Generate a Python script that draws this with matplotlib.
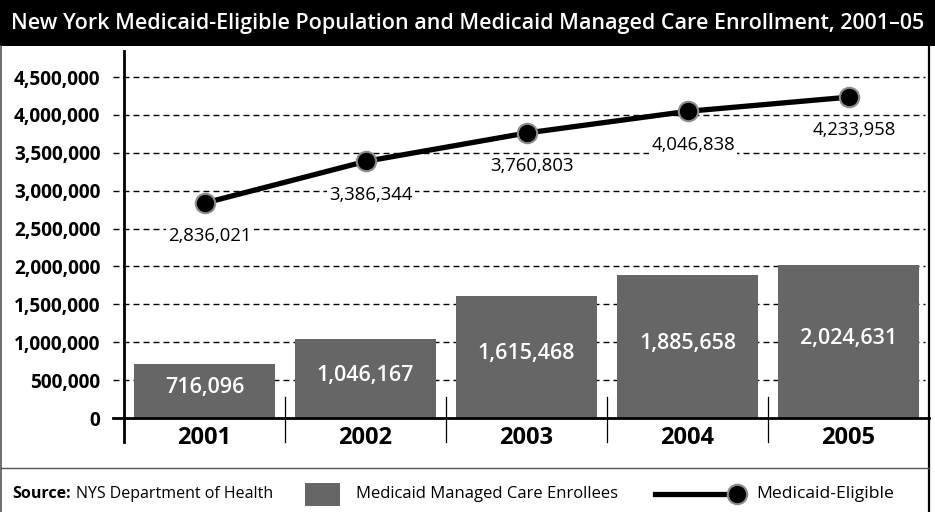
import matplotlib
matplotlib.use("Agg")
import matplotlib.pyplot as plt
from matplotlib.patches import Rectangle
from matplotlib.lines import Line2D

# ---------------------------------------------------------------
# Data
# ---------------------------------------------------------------
years = ["2001", "2002", "2003", "2004", "2005"]
managed_care = [716096, 1046167, 1615468, 1885658, 2024631]
eligible = [2836021, 3386344, 3760803, 4046838, 4233958]
yticks = [0, 500000, 1000000, 1500000, 2000000, 2500000,
          3000000, 3500000, 4000000, 4500000]

TITLE = "New York Medicaid-Eligible Population and Medicaid Managed Care Enrollment, 2001\u201305"

BAR_GRAY = "#666666"
EDGE_GRAY = "#8c8c8c"
BODY = ["Open Sans", "DejaVu Sans"]

W, H = 935, 512


def fx(px):
    return px / W


def fy(py):
    return 1 - py / H


fig = plt.figure(figsize=(W / 100, H / 100), dpi=100)

# title bar
fig.patches.append(Rectangle((0, fy(46)), 1, 46 / H, transform=fig.transFigure,
                             facecolor="black", edgecolor="none", zorder=0))
fig.text(0.5, fy(23), TITLE, color="white", ha="center", va="center",
         fontsize=15.5, fontweight="semibold", family=BODY)

# outer frame + legend separator
fig.lines.append(Line2D([fx(1), fx(1)], [fy(46), 0], transform=fig.transFigure,
                        color="#555555", lw=1.2))
fig.lines.append(Line2D([fx(929), fx(929)], [fy(46), 0], transform=fig.transFigure,
                        color="black", lw=1.6))
fig.lines.append(Line2D([fx(1), fx(929)], [fy(468), fy(468)], transform=fig.transFigure,
                        color="#555555", lw=1.0))

# main axes
ax_left, ax_right, ax_top, ax_bot = 124, 929, 51, 418
ax = fig.add_axes([fx(ax_left), fy(ax_bot), (ax_right - ax_left) / W, (ax_bot - ax_top) / H])
ax.set_xlim(-0.5, 4.5)
ax.set_ylim(0, 4500000 * (ax_bot - ax_top) / (ax_bot - 77))
for s in ax.spines.values():
    s.set_visible(False)

x = list(range(len(years)))
ax_w = ax_right - ax_left
ax_h = ax_bot - ax_top

# dashed gridlines, poking out left of the axis like ticks
ytr = ax.get_yaxis_transform()
for v in yticks[1:]:
    ax.plot([-11 / ax_w, 0.995], [v, v], transform=ytr, color="black", lw=1.0,
            linestyle=(0, (4.3, 2.9)), clip_on=False, zorder=1)
ax.plot([-11 / ax_w, 1.0], [0, 0], transform=ytr, color="black", lw=2.0,
        clip_on=False, zorder=5)
ax.plot([0, 0], [-24 / ax_h, 1], transform=ax.transAxes, color="black", lw=2.0,
        clip_on=False, zorder=5)

# category separators
xtr = ax.get_xaxis_transform()
for b in [0.5, 1.5, 2.5, 3.5]:
    ax.plot([b, b], [21 / ax_h, -24 / ax_h], transform=xtr, color="black", lw=0.9,
            clip_on=False, zorder=5)

# bars
ax.bar(x, managed_care, width=0.875, color=BAR_GRAY, zorder=2)
for xi, v in zip(x, managed_care):
    ax.text(xi, v / 2 + 40000, f"{v:,}", color="white", ha="center", va="center",
            fontsize=15.5, fontweight="semibold", family=BODY, zorder=3)

# line
ax.plot(x, eligible, color="black", lw=3.8, marker="o", markersize=14,
        markerfacecolor="black", markeredgecolor=EDGE_GRAY, markeredgewidth=1.5,
        zorder=6, clip_on=False)
for xi, v in zip(x, eligible):
    ax.annotate(f"{v:,}", (xi, v), xytext=(4, -24), textcoords="offset points",
                ha="center", va="center", fontsize=13.3, family=BODY,
                bbox=dict(facecolor="white", edgecolor="none", pad=1.5), zorder=4)

ax.set_yticks(yticks)
ax.set_yticklabels([f"{v:,}" for v in yticks], fontsize=13.7, fontweight="bold",
                   family=BODY)
ax.set_xticks(x)
ax.set_xticklabels(years, fontsize=17, fontweight="bold", family=BODY)
ax.tick_params(axis="y", length=0, pad=17)
ax.tick_params(axis="x", length=0, pad=6)

# legend row
ly = fy(494)
fig.text(fx(12), ly, "Source:", ha="left", va="center", fontsize=11.5,
         fontweight="bold", family=BODY)
fig.text(fx(76), ly, "NYS Department of Health", ha="left", va="center",
         fontsize=11.5, family=BODY)
fig.patches.append(Rectangle((fx(305), fy(506)), 35 / W, 23 / H, transform=fig.transFigure,
                             facecolor=BAR_GRAY, edgecolor="none"))
fig.text(fx(356), ly, "Medicaid Managed Care Enrollees", ha="left", va="center",
         fontsize=12, family=BODY)
fig.lines.append(Line2D([fx(655), fx(737)], [ly, ly], transform=fig.transFigure,
                        color="black", lw=3.8))
fig.lines.append(Line2D([fx(737)], [ly], transform=fig.transFigure, marker="o",
                        markersize=14, markerfacecolor="black",
                        markeredgecolor=EDGE_GRAY, markeredgewidth=1.5))
fig.text(fx(756), ly, "Medicaid-Eligible", ha="left", va="center",
         fontsize=12.6, family=BODY)

fig.savefig("out.png", dpi=100)
